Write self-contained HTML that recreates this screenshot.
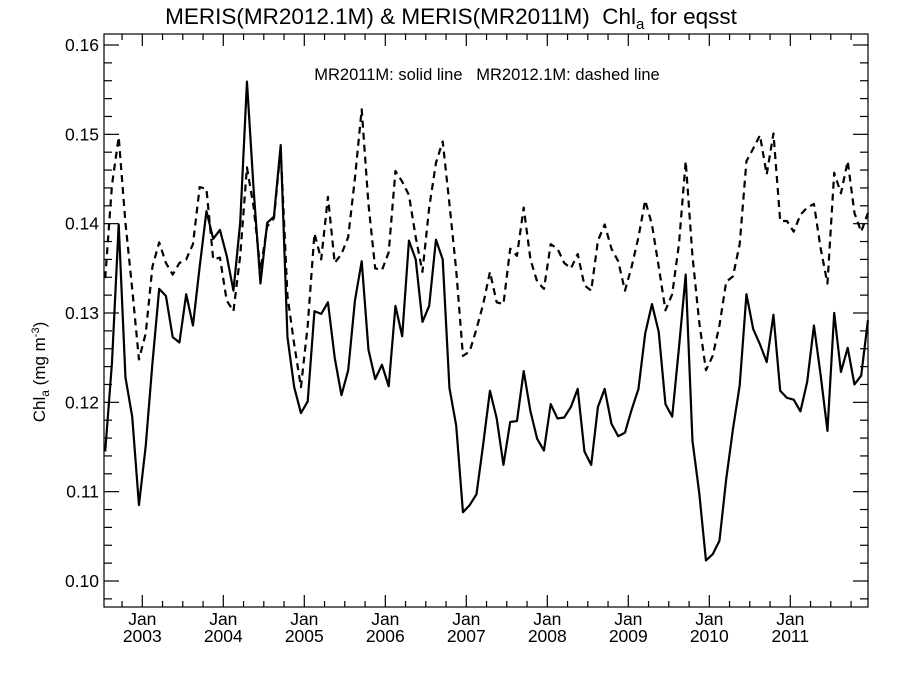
<!DOCTYPE html>
<html><head><meta charset="utf-8"><style>
html,body{margin:0;padding:0;background:#fff;}
svg{display:block;font-family:"Liberation Sans",sans-serif;}
text{white-space:pre;}
</style></head><body>
<svg id="chart" width="900" height="675" viewBox="0 0 900 675" xmlns="http://www.w3.org/2000/svg" xml:space="preserve">
<text x="451" y="24" font-size="22.5" text-anchor="middle" fill="#000">MERIS(MR2012.1M) &amp; MERIS(MR2011M)  Chl<tspan font-size="15" dy="5">a</tspan><tspan dy="-5"> for eqsst</tspan></text>
<text x="487" y="80" font-size="16.5" text-anchor="middle" fill="#000">MR2011M: solid line   MR2012.1M: dashed line</text>
<text transform="translate(45,372) rotate(-90)" font-size="17" text-anchor="middle" fill="#000">Chl<tspan font-size="12" dy="4">a</tspan><tspan dy="-4"> (mg m</tspan><tspan font-size="11" dy="-6">-3</tspan><tspan dy="6">)</tspan></text>
<g id="axes"></g>
<g id="series"></g>
</svg>
<script>
const yTicks = [0.10, 0.11, 0.12, 0.13, 0.14, 0.15, 0.16];
const yTickLabels = ["0.10", "0.11", "0.12", "0.13", "0.14", "0.15", "0.16"];
const xYears = [2003, 2004, 2005, 2006, 2007, 2008, 2009, 2010, 2011];
// monthly values starting Jul 2002 (index 0) to Dec 2011 (index 113)
const solidMR2011M = [
0.1145,0.1244,0.1399,0.1228,0.1184,0.1085,0.1151,0.1244,0.1327,0.1319,
0.1273,0.1267,0.1321,0.1286,0.1352,0.1414,0.1383,0.1393,0.1364,0.1325,
0.1401,0.1559,0.1437,0.1333,0.1401,0.1408,0.1488,0.1273,0.1217,0.1188,
0.1201,0.1302,0.1299,0.1312,0.1250,0.1208,0.1236,0.1314,0.1358,0.1259,
0.1226,0.1242,0.1218,0.1308,0.1274,0.1381,0.1360,0.1290,0.1308,0.1382,
0.1360,0.1216,0.1174,0.1077,0.1085,0.1097,0.1153,0.1213,0.1182,0.1130,
0.1178,0.1179,0.1235,0.1190,0.1159,0.1146,0.1198,0.1182,0.1183,0.1195,
0.1215,0.1145,0.1130,0.1195,0.1215,0.1176,0.1162,0.1166,0.1192,0.1215,
0.1277,0.1310,0.1279,0.1198,0.1184,0.1261,0.1343,0.1157,0.1099,0.1023,
0.1030,0.1045,0.1114,0.1170,0.1219,0.1321,0.1282,0.1265,0.1245,0.1298,
0.1213,0.1205,0.1203,0.1190,0.1223,0.1286,0.1230,0.1168,0.1300,0.1234,
0.1261,0.1220,0.1230,0.1292];
const dashedMR2012 = [
0.1339,0.1443,0.1497,0.1401,0.1327,0.1248,0.1277,0.1352,0.1379,0.1356,
0.1343,0.1356,0.1360,0.1377,0.1441,0.1439,0.1360,0.1362,0.1314,0.1302,
0.1364,0.1463,0.1418,0.1348,0.1397,0.1406,0.1484,0.1319,0.1265,0.1217,
0.1286,0.1389,0.1360,0.1430,0.1356,0.1366,0.1385,0.1451,0.1528,0.1422,
0.1350,0.1348,0.1368,0.1459,0.1447,0.1432,0.1385,0.1346,0.1418,0.1468,
0.1492,0.1422,0.1348,0.1252,0.1257,0.1282,0.1310,0.1346,0.1312,0.1310,
0.1372,0.1364,0.1418,0.1360,0.1335,0.1327,0.1377,0.1372,0.1356,0.1350,
0.1366,0.1331,0.1325,0.1381,0.1399,0.1372,0.1358,0.1325,0.1352,0.1385,
0.1426,0.1399,0.1352,0.1303,0.1321,0.1377,0.1470,0.1364,0.1290,0.1236,
0.1252,0.1286,0.1335,0.1341,0.1377,0.1470,0.1484,0.1499,0.1455,0.1501,
0.1403,0.1403,0.1391,0.1410,0.1418,0.1422,0.1372,0.1333,0.1457,0.1434,
0.1470,0.1412,0.1391,0.1412];

const NS = "http://www.w3.org/2000/svg";
const L = 104, R = 868, T = 34, B = 607;
function xMonth(m) { return 105.2 + 6.75 * m; }
function xJan(year) { return xMonth((year - 2003) * 12 + 6) - 3.4; }
function yVal(v) { return 581 - (v - 0.10) / 0.06 * 536; }

function mk(tag, attrs, parent) {
  const e = document.createElementNS(NS, tag);
  for (const k in attrs) e.setAttribute(k, attrs[k]);
  parent.appendChild(e);
  return e;
}
const axes = document.getElementById('axes');
const series = document.getElementById('series');

const frame = mk('rect', {x: L, y: T, width: R - L, height: B - T, fill: 'none', stroke: '#000', 'stroke-width': 1.2}, axes);



for (let k = 0; k <= 40; k++) {
  const v = 0.094 + k * 0.002;
  const y = yVal(v);
  if (y < T || y > B) continue;
  const major = Math.abs((v * 100) - Math.round(v * 100)) < 1e-6;
  const len = major ? 15 : 8;
  const t1 = mk('line', {x1: L, x2: L + len, y1: y, y2: y, stroke: '#000', 'stroke-width': 1.2}, axes);
  
  
  const t2 = mk('line', {x1: R, x2: R - len, y1: y, y2: y, stroke: '#000', 'stroke-width': 1.2}, axes);
  
  
}
yTicks.forEach((v, i) => {
  const t = mk('text', {x: 99, y: yVal(v) + 6, 'font-size': 17.5, 'text-anchor': 'end', fill: '#000'}, axes);
  
  
  t.textContent = yTickLabels[i];
});

for (let m = 0; m <= 114; m++) {
  const monthOfYear = (m + 6) % 12;
  if (monthOfYear % 3 !== 0) continue;
  const x = xMonth(m) - 3.4;
  if (x < L || x > R) continue;
  const len = monthOfYear === 0 ? 12 : 6;
  const b = mk('line', {x1: x, x2: x, y1: B, y2: B - len, stroke: '#000', 'stroke-width': 1.2}, axes);
  
  
  const t = mk('line', {x1: x, x2: x, y1: T, y2: T + len, stroke: '#000', 'stroke-width': 1.2}, axes);
  
  
}
xYears.forEach(yr => {
  const x = xJan(yr);
  const j = mk('text', {x: x, y: 625, 'font-size': 17.5, 'text-anchor': 'middle', fill: '#000'}, axes);
  
  
  j.textContent = 'Jan';
  const y = mk('text', {x: x, y: 642, 'font-size': 17.5, 'text-anchor': 'middle', fill: '#000'}, axes);
  
  
  y.textContent = String(yr);
});

function pts(arr) { return arr.map((v, i) => xMonth(i).toFixed(2) + ',' + yVal(v).toFixed(2)).join(' '); }
const dl = mk('polyline', {points: pts(dashedMR2012), fill: 'none', stroke: '#000', 'stroke-width': 2.2, 'stroke-dasharray': '7,5', 'stroke-linejoin': 'round'}, series);


const sl = mk('polyline', {points: pts(solidMR2011M), fill: 'none', stroke: '#000', 'stroke-width': 2.2, 'stroke-linejoin': 'round'}, series);


</script>
</body></html>
